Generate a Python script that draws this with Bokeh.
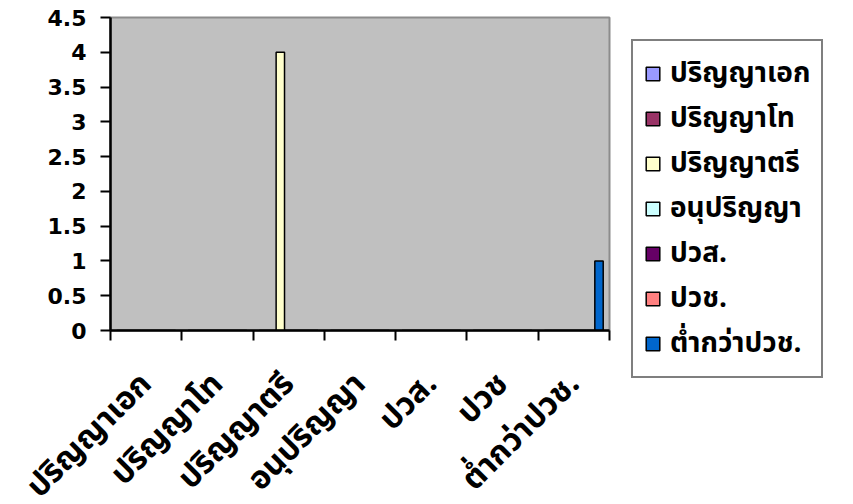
import math
from bokeh.plotting import figure
from bokeh.models import (Range1d, FixedTicker, Legend, LegendItem, LinearAxis)
from bokeh.embed import file_html
from bokeh.resources import INLINE

categories = ["ปริญญาเอก", "ปริญญาโท", "ปริญญาตรี", "อนุปริญญา", "ปวส.", "ปวช", "ต่ำกว่าปวช."]
series_names = ["ปริญญาเอก", "ปริญญาโท", "ปริญญาตรี", "อนุปริญญา", "ปวส.", "ปวช.", "ต่ำกว่าปวช."]
series_colors = ["#9999FF", "#993366", "#FFFFCC", "#CCFFFF", "#660066", "#FF8080", "#0066CC"]
series_values = [
    [0, 0, 0, 0, 0, 0, 0],
    [0, 0, 0, 0, 0, 0, 0],
    [0, 0, 4, 0, 0, 0, 0],
    [0, 0, 0, 0, 0, 0, 0],
    [0, 0, 0, 0, 0, 0, 0],
    [0, 0, 0, 0, 0, 0, 0],
    [0, 0, 0, 0, 0, 0, 1],
]
y_ticks = [0, 0.5, 1, 1.5, 2, 2.5, 3, 3.5, 4, 4.5]

FONT = "Tahoma, 'Noto Sans Thai', 'Noto Sans Thai UI', Garuda, Loma, Waree, Sarabun, 'Noto Sans', 'DejaVu Sans', sans-serif"

n_cat = len(categories)
n_ser = len(series_names)
gap = 1.5
slot = 1.0 / (n_ser + gap)

def bar_positions(i):
    return [c + gap / 2 * slot + (i + 0.5) * slot for c in range(n_cat)]

p = figure(frame_width=499, frame_height=313, output_backend="svg", toolbar_location=None,
           x_range=Range1d(0, n_cat), y_range=Range1d(0, 4.5),
           min_border_left=110, min_border_right=0, min_border_top=17,
           min_border_bottom=20, x_axis_location=None, y_axis_location=None)
p.background_fill_color = "#C0C0C0"
p.border_fill_color = "white"
p.outline_line_color = "#8C8C8C"
p.outline_line_width = 2
p.xgrid.visible = False
p.ygrid.visible = False

renderers = []
for i, (name, color, vals) in enumerate(zip(series_names, series_colors, series_values)):
    renderers.append(p.vbar(x=bar_positions(i), top=vals, bottom=0, width=slot,
                            fill_color=color, line_color="black", line_width=1.5))

# y axis
yax = LinearAxis(ticker=FixedTicker(ticks=y_ticks),
                 major_label_overrides={t: ("%g" % t) for t in y_ticks})
yax.axis_line_width = 2.5
yax.axis_line_color = "black"
yax.major_tick_line_width = 2
yax.major_tick_in = 0
yax.major_tick_out = 10
yax.minor_tick_out = 0
yax.minor_tick_in = 0
yax.major_label_text_font = "DejaVu Sans"
yax.major_label_text_font_style = "bold"
yax.major_label_text_font_size = "22px"
yax.major_label_text_color = "black"
yax.major_label_standoff = 14
p.add_layout(yax, "left")

# x axis: labels at category centres, ticks at boundaries
xax = LinearAxis(ticker=FixedTicker(ticks=[c + 0.5 for c in range(n_cat)],
                                    minor_ticks=list(range(n_cat + 1))),
                 major_label_overrides={c + 0.5: categories[c] for c in range(n_cat)})
xax.axis_line_width = 2.5
xax.axis_line_color = "black"
xax.major_tick_in = 0
xax.major_tick_out = 0
xax.minor_tick_in = 0
xax.minor_tick_out = 10
xax.minor_tick_line_width = 2
xax.minor_tick_line_color = "black"
xax.major_label_orientation = math.pi / 4
xax.major_label_text_font = FONT
xax.major_label_text_font_style = "bold"
xax.major_label_text_font_size = "32px"
xax.major_label_text_color = "black"
xax.major_label_standoff = 38
p.add_layout(xax, "below")

legend = Legend(items=[LegendItem(label=n, renderers=[r]) for n, r in zip(series_names, renderers)],
                location="top_left")
legend.label_text_font = FONT
legend.label_text_font_style = "bold"
legend.label_text_font_size = "28px"
legend.label_text_color = "black"
legend.glyph_width = 17
legend.glyph_height = 17
legend.label_height = 20
legend.label_standoff = 9
legend.spacing = 2
legend.padding = 11
legend.margin = 22
legend.border_line_color = "black"
legend.border_line_width = 2
legend.background_fill_color = "white"
legend.background_fill_alpha = 1
p.add_layout(legend, "right")

open("out.html", "w").write(file_html(p, INLINE))
